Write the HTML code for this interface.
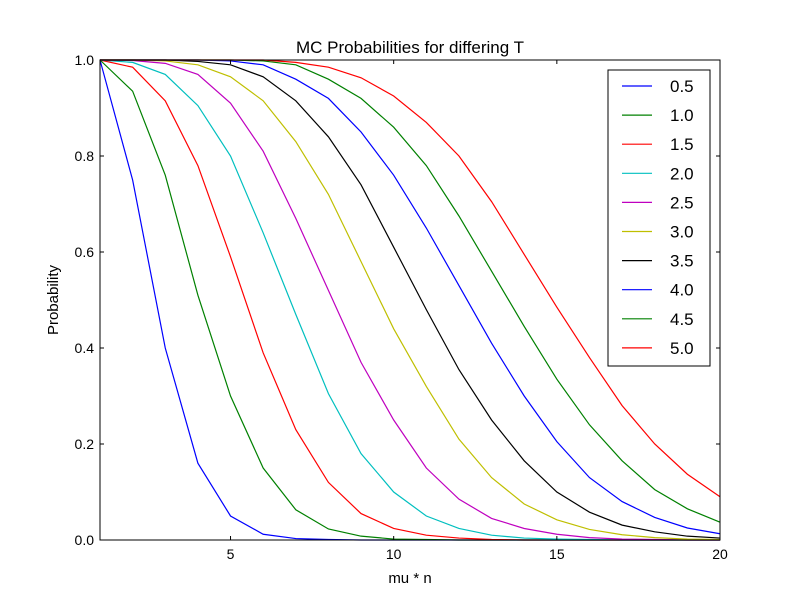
<!DOCTYPE html>
<html><head><meta charset="utf-8"><style>
body{margin:0;background:#fff}
svg text{font-family:"Liberation Sans","DejaVu Sans",sans-serif}
</style></head><body>
<svg id="chart" width="800" height="600" xmlns="http://www.w3.org/2000/svg">
<rect width="800" height="600" fill="#fff"/>
<g id="plot"></g>
</svg>
<script>
const xValues=[1,2,3,4,5,6,7,8,9,10,11,12,13,14,15,16,17,18,19,20];
const seriesLabels=["0.5","1.0","1.5","2.0","2.5","3.0","3.5","4.0","4.5","5.0"];
const s05=[1,0.75,0.40,0.16,0.05,0.012,0.003,0.001,0,0,0,0,0,0,0,0,0,0,0,0];
const s10=[1,0.935,0.76,0.51,0.30,0.15,0.063,0.023,0.008,0.002,0.001,0,0,0,0,0,0,0,0,0];
const s15=[1,0.985,0.915,0.78,0.59,0.39,0.23,0.12,0.055,0.024,0.01,0.004,0.001,0,0,0,0,0,0,0];
const s20=[1,0.995,0.97,0.905,0.80,0.64,0.47,0.305,0.18,0.10,0.05,0.024,0.01,0.004,0.002,0.001,0,0,0,0];
const s25=[1,0.999,0.993,0.97,0.91,0.81,0.67,0.52,0.37,0.25,0.15,0.085,0.045,0.024,0.012,0.005,0.002,0.001,0,0];
const s30=[1,1,0.998,0.99,0.965,0.915,0.83,0.72,0.58,0.44,0.32,0.21,0.13,0.075,0.042,0.022,0.011,0.005,0.002,0.001];
const s35=[1,1,1,0.997,0.99,0.965,0.915,0.84,0.74,0.61,0.48,0.355,0.25,0.165,0.10,0.058,0.031,0.017,0.008,0.004];
const s40=[1,1,1,1,0.998,0.99,0.96,0.92,0.85,0.76,0.65,0.53,0.41,0.30,0.205,0.13,0.08,0.047,0.025,0.013];
const s45=[1,1,1,1,1,0.998,0.99,0.96,0.92,0.86,0.78,0.675,0.56,0.445,0.335,0.24,0.165,0.105,0.065,0.037];
const s50=[1,1,1,1,1,1,0.995,0.985,0.963,0.925,0.87,0.80,0.705,0.595,0.485,0.38,0.28,0.20,0.137,0.09];
const xTicks=[5,10,15,20];
const yTicks=[0,0.2,0.4,0.6,0.8,1.0];
const seriesData=[s05,s10,s15,s20,s25,s30,s35,s40,s45,s50];
const colors=["#0000ff","#008000","#ff0000","#00bfbf","#bf00bf","#bfbf00","#000000","#0000ff","#008000","#ff0000"];
const L=100,R=720,T=60,B=540,NS="http://www.w3.org/2000/svg";
const xs=v=>L+(v-1)/19*(R-L);
const ys=v=>B-v*(B-T);
const g=document.getElementById('plot');
function el(tag,attrs,parent){const e=document.createElementNS(NS,tag);for(const k in attrs)e.setAttribute(k,attrs[k]);(parent||g).appendChild(e);return e;}
seriesData.forEach((d,i)=>{
 const p=el('polyline',{points:d.map((v,j)=>xs(xValues[j])+','+ys(v)).join(' '),fill:'none',stroke:colors[i],'stroke-width':1.2});
 
 
});
const frame=el('rect',{x:L,y:T,width:R-L,height:B-T,fill:'none',stroke:'#000','stroke-width':1});


xTicks.forEach(t=>{const x=xs(t);
 el('line',{x1:x,x2:x,y1:B,y2:B-4,stroke:'#000'});el('line',{x1:x,x2:x,y1:T,y2:T+4,stroke:'#000'});
 const tx=el('text',{x:x,y:B+19,'text-anchor':'middle','font-size':14});tx.textContent=t;
 
 
});
yTicks.forEach(t=>{const y=ys(t);
 el('line',{x1:L,x2:L+4,y1:y,y2:y,stroke:'#000'});el('line',{x1:R,x2:R-4,y1:y,y2:y,stroke:'#000'});
 const tx=el('text',{x:L-6,y:y+5,'text-anchor':'end','font-size':14});tx.textContent=t.toFixed(1);
 
 
});
const title=el('text',{x:410,y:53,'text-anchor':'middle','font-size':17});title.textContent='MC Probabilities for differing T';


const xl=el('text',{x:410,y:583,'text-anchor':'middle','font-size':15});xl.textContent='mu * n';


const yl=el('text',{x:58,y:300,'text-anchor':'middle','font-size':15,transform:'rotate(-90 58 300)'});yl.textContent='Probability';


const lg=el('g',{});


el('rect',{x:608,y:70,width:102,height:296,fill:'#fff',stroke:'#000'},lg);
seriesLabels.forEach((s,i)=>{const y=86+i*29.1;
 const e=el('g',{},lg);
 
 
 el('line',{x1:622,x2:652,y1:y,y2:y,stroke:colors[i],'stroke-width':1.2},e);
 const t=el('text',{x:670,y:y+6,'font-size':17},e);t.textContent=s;
});
</script>
</body></html>
